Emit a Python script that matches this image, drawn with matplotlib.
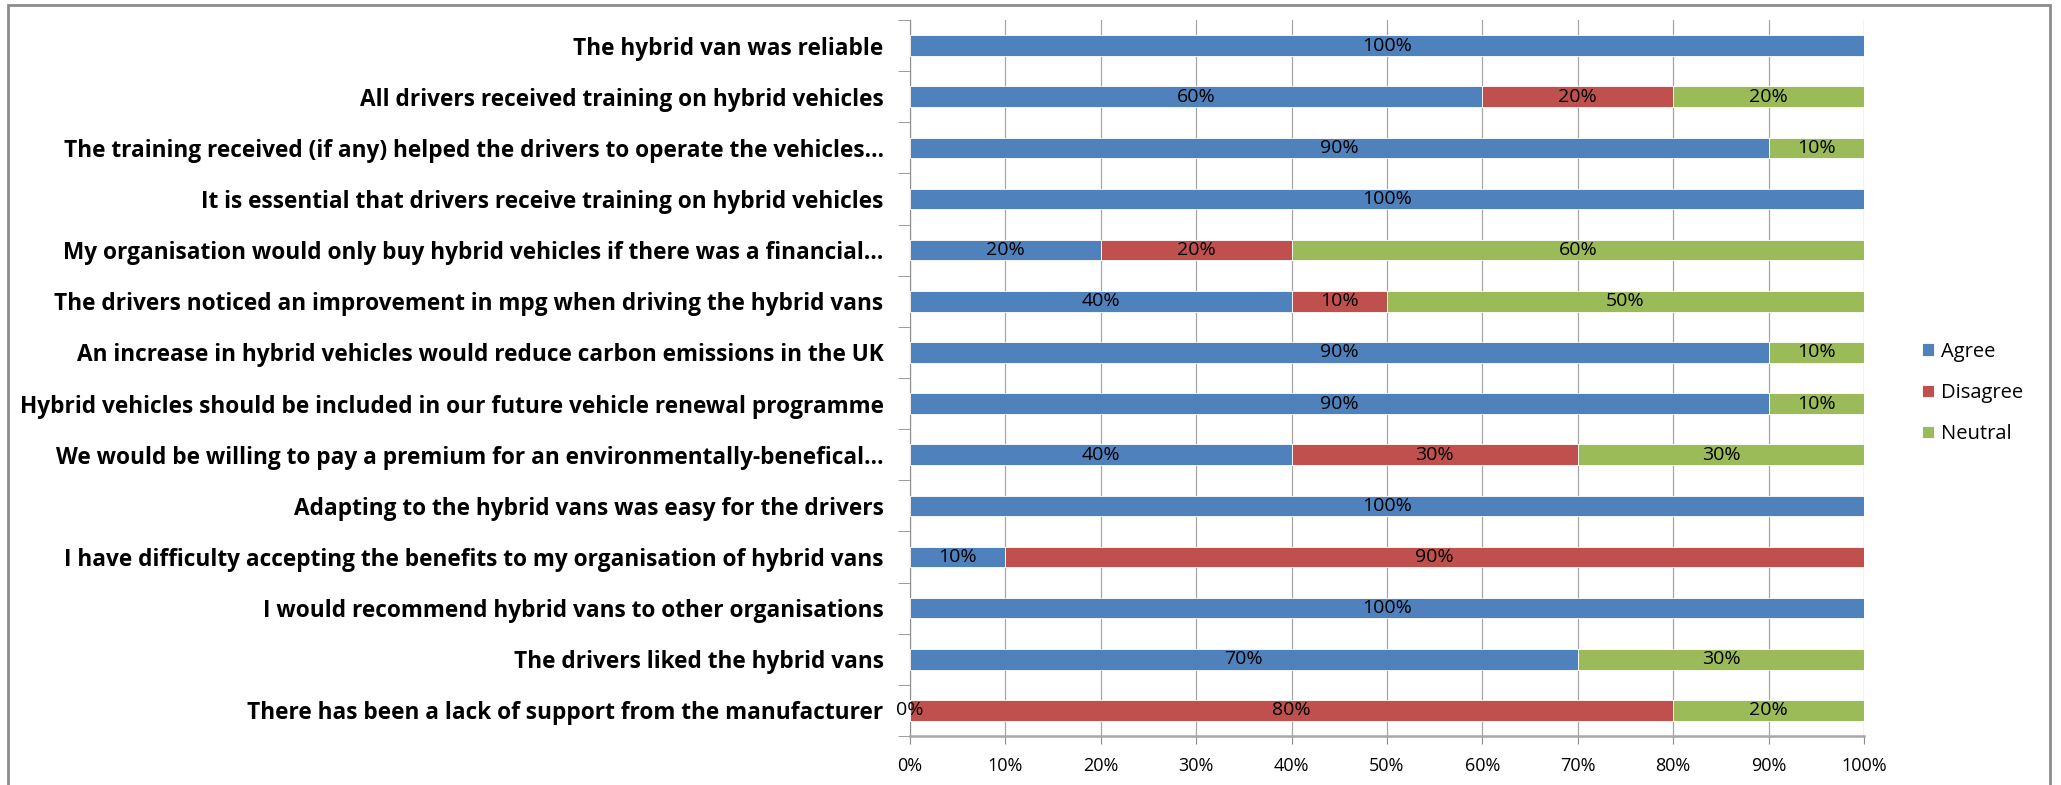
import numpy as np
import matplotlib.pyplot as plt
from matplotlib.patches import Rectangle

# 설문 문항 (위에서 아래 순서)
questions = [
    "The hybrid van was reliable",
    "All drivers received training on hybrid vehicles",
    "The training received (if any) helped the drivers to operate the vehicles…",
    "It is essential that drivers receive training on hybrid vehicles",
    "My organisation would only buy hybrid vehicles if there was a financial…",
    "The drivers noticed an improvement in mpg when driving the hybrid vans",
    "An increase in hybrid vehicles would reduce carbon emissions in the UK",
    "Hybrid vehicles should be included in our future vehicle renewal programme",
    "We would be willing to pay a premium for an environmentally-benefical…",
    "Adapting to the hybrid vans was easy for the drivers",
    "I have difficulty accepting the benefits to my organisation of hybrid vans",
    "I would recommend hybrid vans to other organisations",
    "The drivers liked the hybrid vans",
    "There has been a lack of support from the manufacturer",
]

# 응답 비율 (%), None = 빈 칸
agree = [100, 60, 90, 100, 20, 40, 90, 90, 40, 100, 10, 100, 70, 0]
disagree = [None, 20, None, None, 20, 10, None, None, 30, None, 90, None, None, 80]
neutral = [None, 20, 10, None, 60, 50, 10, 10, 30, None, None, None, 30, 20]

series = [("Agree", agree, "#4F81BD"),
          ("Disagree", disagree, "#C0504D"),
          ("Neutral", neutral, "#9BBB59")]

W, H = 2061, 785
fig = plt.figure(figsize=(W / 100, H / 100), dpi=100)
ax = fig.add_axes([910 / W, (H - 736) / H, 954 / W, 716 / H])

# 테두리
fig.patches.append(Rectangle((8 / W, -0.05), (2050 - 8) / W, 1.05 - 4.5 / H,
                             transform=fig.transFigure, fill=False,
                             edgecolor="#8c8c8c", lw=2))

n = len(questions)
y = np.arange(n)[::-1]
left = np.zeros(n)
for name, vals, color in series:
    v = np.array([0 if x is None else x for x in vals], dtype=float) / 100
    ax.barh(y, v, left=left, height=0.4, color=color, edgecolor="white",
            linewidth=0.6, label=name, zorder=3)
    for i, x in enumerate(vals):
        if x is None:
            continue
        ax.text(left[i] + v[i] / 2, y[i], f"{x}%", ha="center", va="center",
                fontsize=14, color="black", zorder=4, family="Open Sans")
    left += v

ax.set_xlim(0, 1)
ax.set_ylim(-0.5, n - 0.5)
ax.set_xticks(np.linspace(0, 1, 11))
ax.set_xticklabels([f"{k}%" for k in range(0, 101, 10)], fontsize=13,
                   family="Open Sans")
ax.xaxis.grid(True, color="#a6a6a6", lw=0.9, zorder=0)
ax.set_axisbelow(True)

ax.set_yticks(y)
ax.set_yticklabels(questions, fontsize=16.3, fontweight="bold", family="Open Sans")
ax.set_yticks(np.arange(n + 1) - 0.5, minor=True)
ax.tick_params(axis="y", which="major", length=0, pad=19)
ax.tick_params(axis="y", which="minor", length=9, color="#8c8c8c")
ax.tick_params(axis="x", length=6, color="#8c8c8c", pad=9)

for s in ["top", "right"]:
    ax.spines[s].set_visible(False)
ax.spines["left"].set_color("#8c8c8c")
ax.spines["bottom"].set_color("#a6a6a6")
ax.spines["bottom"].set_linewidth(1.8)

leg = ax.legend(loc="center left", bbox_to_anchor=(1922 / W, 392 / H),
                bbox_transform=fig.transFigure, frameon=False,
                handlelength=0.6, handleheight=0.6, handletextpad=0.35,
                labelspacing=1.05, borderpad=0, borderaxespad=0,
                prop={"family": "Open Sans", "size": 14.5})

fig.savefig("out.png", dpi=100)
